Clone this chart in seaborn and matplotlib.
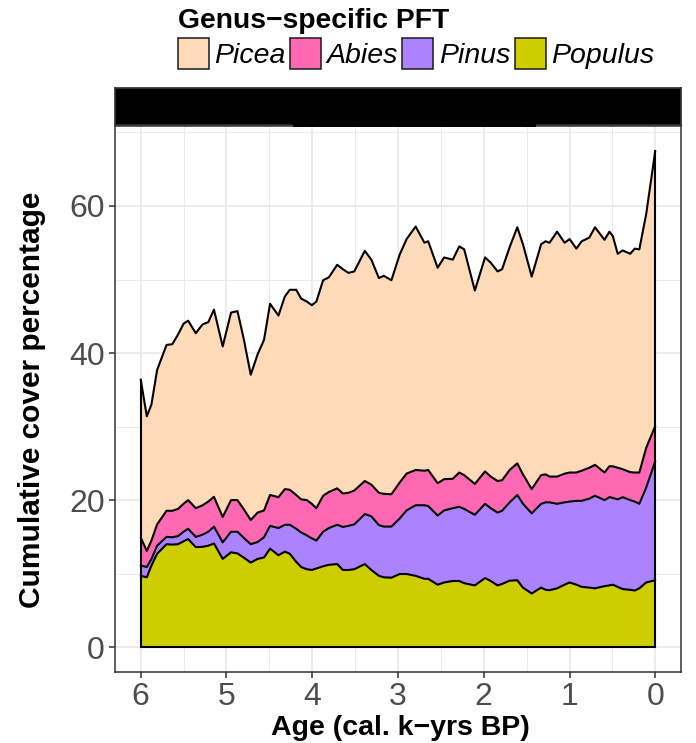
import numpy as np
import pandas as pd
import matplotlib
matplotlib.use("Agg")
import matplotlib.pyplot as plt
from matplotlib.patches import Rectangle
import seaborn as sns

# ---------------- data ----------------
age = [6.000, 5.929, 5.875, 5.809, 5.699, 5.632, 5.566, 5.500, 5.447, 5.358,
       5.279, 5.212, 5.146, 5.044, 4.947, 4.872, 4.801, 4.717, 4.638, 4.562,
       4.492, 4.394, 4.319, 4.262, 4.187, 4.129, 4.063, 4.005, 3.952, 3.873,
       3.806, 3.709, 3.643, 3.577, 3.510, 3.387, 3.311, 3.223, 3.165, 3.077,
       2.980, 2.900, 2.794, 2.692, 2.648, 2.538, 2.462, 2.361, 2.286, 2.228,
       2.104, 1.985, 1.919, 1.839, 1.786, 1.698, 1.609, 1.543, 1.441, 1.331,
       1.278, 1.233, 1.145, 1.057, 0.999, 0.920, 0.858, 0.769, 0.703, 0.592,
       0.535, 0.495, 0.438, 0.380, 0.292, 0.239, 0.186, 0.106, 0.000]

populus = [9.7, 9.5, 11.1, 12.7, 14.0, 13.95, 14.0, 14.4, 14.7, 13.6,
           13.65, 13.8, 14.1, 12.0, 12.9, 12.75, 12.2, 11.5, 12.0, 12.2,
           13.4, 12.5, 13.0, 12.7, 11.6, 10.9, 10.6, 10.5, 10.7, 11.0,
           11.2, 11.3, 10.5, 10.5, 10.6, 11.3, 10.5, 9.7, 9.5, 9.45,
           9.95, 9.95, 9.7, 9.3, 9.3, 8.5, 8.8, 9.0, 9.0, 8.7,
           8.4, 9.4, 9.0, 8.4, 8.6, 9.05, 9.1, 8.1, 7.3, 8.1,
           7.8, 7.75, 8.0, 8.5, 8.8, 8.5, 8.2, 8.1, 8.0, 8.3,
           8.4, 8.5, 8.2, 7.9, 7.8, 7.7, 8.0, 8.8, 9.1]

pinus = [1.4, 1.4, 0.9, 1.1, 1.0, 1.0, 1.1, 1.3, 1.4, 1.4,
         1.65, 1.9, 2.3, 2.25, 2.8, 2.95, 2.7, 2.5, 2.3, 2.75,
         3.1, 3.7, 3.65, 3.95, 4.5, 4.7, 4.6, 4.3, 3.8, 4.7,
         5.0, 5.35, 5.85, 6.0, 6.1, 6.8, 7.3, 6.9, 6.9, 6.95,
         7.55, 8.65, 9.6, 10.0, 9.9, 9.4, 9.8, 9.9, 10.1, 10.1,
         9.6, 10.1, 9.9, 9.9, 9.95, 10.65, 11.6, 11.4, 10.9, 11.4,
         11.9, 11.95, 11.5, 11.2, 11.0, 11.4, 11.7, 12.1, 12.6, 11.7,
         12.0, 11.8, 11.9, 12.5, 12.2, 12.1, 11.5, 12.9, 16.2]

abies = [3.8, 2.2, 2.5, 2.9, 3.55, 3.6, 3.7, 3.8, 3.9, 3.9,
         4.0, 4.1, 4.05, 3.45, 4.3, 4.3, 3.9, 3.3, 4.0, 3.65,
         4.2, 4.2, 4.85, 4.75, 4.6, 4.5, 4.8, 4.7, 4.4, 4.9,
         4.9, 4.95, 4.55, 4.5, 4.6, 4.5, 4.3, 4.4, 4.45, 4.4,
         4.9, 5.0, 4.8, 4.7, 4.9, 4.4, 4.25, 4.0, 4.65, 4.6,
         4.2, 4.4, 4.3, 4.3, 4.15, 4.4, 4.3, 4.0, 3.3, 3.9,
         3.8, 3.5, 3.7, 3.9, 3.95, 3.85, 4.1, 4.2, 4.2, 3.75,
         4.2, 4.3, 4.3, 3.8, 3.8, 3.95, 4.25, 5.4, 4.8]

picea = [21.5, 18.3, 18.5, 21.0, 22.55, 22.65, 23.7, 24.5, 24.4, 23.8,
         24.6, 24.4, 25.45, 23.2, 25.5, 25.7, 23.25, 19.75, 21.5, 23.2,
         26.0, 24.7, 26.2, 27.2, 27.9, 27.3, 27.0, 27.0, 28.1, 29.3,
         29.2, 30.4, 30.5, 29.9, 29.8, 31.3, 30.6, 29.2, 29.65, 29.1,
         31.0, 31.9, 33.1, 31.0, 31.1, 29.3, 30.15, 29.8, 30.75, 30.7,
         26.3, 29.1, 29.1, 28.5, 28.7, 30.3, 32.1, 31.3, 28.9, 31.4,
         31.7, 31.8, 33.3, 31.4, 31.75, 30.45, 31.2, 31.3, 32.3, 31.65,
         31.9, 31.3, 29.1, 29.75, 29.7, 30.45, 30.35, 31.8, 37.4]

species = ["Picea", "Abies", "Pinus", "Populus"]          # legend order (top of stack first)
colors = ["#FFDAB9", "#FF69B4", "#AB82FF", "#CDCD00"]
legend_title = "Genus\u2212specific PFT"
xlabel = "Age (cal. k\u2212yrs BP)"
ylabel = "Cumulative cover percentage"
xticks = [6, 5, 4, 3, 2, 1, 0]
yticks = [0, 20, 40, 60]

# ---------------- style ----------------
sns.set_theme(style="white")
plt.rcParams["font.family"] = ["Liberation Sans", "DejaVu Sans"]

W, H = 696, 743
fig = plt.figure(figsize=(W / 100, H / 100), dpi=100)
fig.patch.set_facecolor("white")


def fx(px):
    return px / W


def fy(py):
    return 1 - py / H


ax = fig.add_axes([fx(115), fy(672), (681 - 115) / W, (672 - 126) / H])
ax.set_facecolor("white")

# long-form table
values = {"Populus": populus, "Pinus": pinus, "Abies": abies, "Picea": picea}
stack_order = ["Populus", "Pinus", "Abies", "Picea"]   # bottom to top
df = pd.DataFrame({"age": age, **values})
cum = df[stack_order].cumsum(axis=1)
cum["age"] = df["age"]
long = cum.melt(id_vars="age", var_name="species", value_name="cum")

col_map = dict(zip(species, colors))
ax.stackplot(df["age"], *[df[s] for s in stack_order],
             colors=[col_map[s] for s in stack_order],
             edgecolor="none", linewidth=0, zorder=2)

# outlines of each stacked layer
sns.lineplot(data=long, x="age", y="cum", units="species", estimator=None,
             sort=False, color="black", linewidth=1.5, ax=ax, zorder=3)
for ln in ax.get_lines():
    ln.set_solid_joinstyle("round")
    ln.set_solid_capstyle("round")
total = cum["Picea"]
ax.plot([df["age"].iloc[0], df["age"].iloc[0]], [0, total.iloc[0]], color="black", lw=1.5, zorder=3)
ax.plot([df["age"].iloc[-1], df["age"].iloc[-1]], [0, total.iloc[-1]], color="black", lw=1.5, zorder=3)
ax.plot([df["age"].iloc[0], df["age"].iloc[-1]], [0, 0], color="black", lw=1.5, zorder=3)

# scales
ax.set_xlim(6.3, -0.3)
ax.set_ylim(-3.375, 70.875)
ax.set_xticks(xticks)
ax.set_xticklabels([str(v) for v in xticks])
ax.set_xticks([5.5, 4.5, 3.5, 2.5, 1.5, 0.5], minor=True)
ax.set_yticks(yticks)
ax.set_yticklabels([str(v) for v in yticks])
ax.set_yticks([10, 30, 50, 70], minor=True)
ax.set_axisbelow(True)
ax.grid(which="major", color="#EBEBEB", linewidth=1.3, zorder=0)
ax.grid(which="minor", color="#EBEBEB", linewidth=0.7, zorder=0)
ax.tick_params(which="major", bottom=True, left=True, length=4.5, width=1.1,
               color="#333333", labelcolor="#4D4D4D", labelsize=23)
ax.tick_params(axis="x", which="major", pad=2.5)
ax.tick_params(axis="y", which="major", pad=3)
ax.tick_params(which="minor", length=0)
for sp in ax.spines.values():
    sp.set_color("#333333")
    sp.set_linewidth(1.1)
    sp.set_zorder(5)
ax.set_xlabel("")
ax.set_ylabel("")

# facet strip
sax = fig.add_axes([fx(115), fy(125), (681 - 115) / W, (125 - 88) / H])
sax.set_facecolor("black")
sax.set_xticks([])
sax.set_yticks([])
for sp in sax.spines.values():
    sp.set_color("#333333")
fig.add_artist(Rectangle((fx(293), fy(127)), (536 - 293) / W, 3 / H,
                         transform=fig.transFigure, facecolor="black",
                         edgecolor="none", zorder=6))

# axis titles
fig.text(fx(400), fy(735), xlabel, ha="center", va="baseline",
         fontsize=20.5, fontweight="bold", color="black")
fig.text(fx(40), fy(400), ylabel, rotation=90, rotation_mode="anchor",
         ha="center", va="baseline", fontsize=21.5, fontweight="bold", color="black")

# legend (top, horizontal)
fig.text(fx(178), fy(28), legend_title, ha="left", va="baseline",
         fontsize=20.3, fontweight="bold", color="black")
renderer = fig.canvas.get_renderer()
x = 177.5
key = 31
for sp_name, c in zip(species, colors):
    fig.add_artist(Rectangle((fx(x), fy(38 + key)), key / W, key / H,
                             transform=fig.transFigure, facecolor=c,
                             edgecolor="#1a1a1a", linewidth=1.1))
    t = fig.text(fx(x + key + 5.5), fy(63), sp_name, ha="left", va="baseline",
                 fontsize=20.5, fontstyle="italic", color="black")
    w = t.get_window_extent(renderer).width
    x = x + key + 5.5 + w + 4.5

fig.savefig("out.png", dpi=100, facecolor="white")
